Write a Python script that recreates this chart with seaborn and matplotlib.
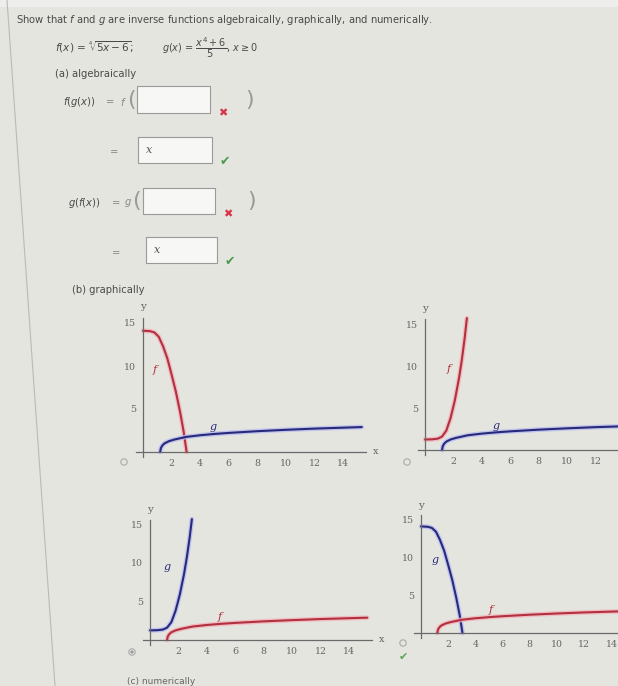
import numpy as np
import matplotlib
matplotlib.use('Agg')
import matplotlib.pyplot as plt
import seaborn as sns
from matplotlib.patches import Rectangle, Circle

# curve points (x, y)
root_x = [1.2, 1.25, 1.35, 1.5, 1.8, 2.2, 3, 4, 5, 6, 8, 10, 12, 15.3]
root_y = [0, 0.45, 0.75, 1.0, 1.25, 1.45, 1.75, 1.95, 2.1, 2.22, 2.42, 2.58, 2.72, 2.9]
drop_x = [0, 0.5, 0.8, 1.1, 1.4, 1.7, 2.0, 2.3, 2.6, 2.85, 3.05]
drop_y = [14.1, 14.05, 13.9, 13.4, 12.3, 10.9, 9.0, 7.0, 4.6, 2.3, 0]
rise_x = [0, 0.5, 0.9, 1.2, 1.5, 1.8, 2.1, 2.4, 2.6, 2.8, 2.95]
rise_y = [1.25, 1.27, 1.35, 1.6, 2.3, 3.8, 5.9, 8.6, 10.8, 13.4, 15.7]
x_ticks = [2, 4, 6, 8, 10, 12, 14]
y_ticks = [5, 10, 15]

W, H = 618, 686
BG = '#e4e5df'
RED, RED_GLOW = '#b3303f', '#f2b3ba'
BLUE, BLUE_GLOW = '#272a7a', '#b9bbf0'
TXT = '#4a4a4a'

sns.set_theme(style='white')
plt.rcParams['font.family'] = ['DejaVu Sans']
plt.rcParams['mathtext.fontset'] = 'dejavusans'

fig = plt.figure(figsize=(W / 100, H / 100), dpi=100)
fig.patch.set_facecolor(BG)

# pixel canvas for the page (text, boxes, marks)
cv = fig.add_axes([0, 0, 1, 1])
cv.set_xlim(0, W)
cv.set_ylim(H, 0)
cv.axis('off')
cv.set_facecolor(BG)
cv.plot([7, 55], [0, 686], color='#b9bbb4', lw=0.8)
cv.add_patch(Rectangle((0, 0), W, 7, color='#eeefec', lw=0))

fs = 7.2
cv.text(16, 20, 'Show that $f$ and $g$ are inverse functions algebraically, graphically, and numerically.',
        fontsize=fs, color=TXT, va='center')
cv.text(55, 47, r'$f(x)$ = $\sqrt[4]{5x-6}$;', fontsize=7.6, color=TXT, va='center')
cv.text(162, 48, r'$g(x)$ = $\dfrac{x^4+6}{5}$, $x \geq 0$', fontsize=7.0, color=TXT, va='center')
cv.text(55, 74, '(a) algebraically', fontsize=fs, color=TXT, va='center')

def box(x0, x1, y0, y1, content=None):
    cv.add_patch(Rectangle((x0, y0), x1 - x0, y1 - y0, facecolor='#f7f7f5',
                           edgecolor='#9a9a98', lw=0.8))
    if content:
        cv.text(x0 + 8, (y0 + y1) / 2, content, fontsize=8, color='#555',
                family='DejaVu Serif', style='italic', va='center')

cv.text(63, 102, '$f(g(x))$', fontsize=fs, color=TXT, va='center')
cv.text(106, 102, '=', fontsize=fs, color='#888', va='center')
cv.text(120, 102, '$f$', fontsize=fs, color='#888', va='center')
cv.text(127, 100, '(', fontsize=16, color='#999', va='center')
box(137, 210, 86, 113)
cv.text(223, 113, '\u2716', fontsize=8, color='#d8334a', ha='center', va='center')
cv.text(245, 100, ')', fontsize=16, color='#999', va='center')

cv.text(110, 152, '=', fontsize=fs, color='#888', va='center')
box(138, 212, 137, 163, 'x')
cv.text(225, 162, '\u2714', fontsize=9, color='#4f9a4f', ha='center', va='center')

cv.text(68, 203, '$g(f(x))$', fontsize=fs, color=TXT, va='center')
cv.text(112, 203, '=', fontsize=fs, color='#888', va='center')
cv.text(124, 203, '$g$', fontsize=fs, color='#888', va='center')
cv.text(132, 201, '(', fontsize=16, color='#999', va='center')
box(143, 215, 188, 214)
cv.text(228, 214, '\u2716', fontsize=8, color='#d8334a', ha='center', va='center')
cv.text(247, 201, ')', fontsize=16, color='#999', va='center')

cv.text(112, 253, '=', fontsize=fs, color='#888', va='center')
box(146, 217, 237, 263, 'x')
cv.text(230, 262, '\u2714', fontsize=9, color='#4f9a4f', ha='center', va='center')

cv.text(72, 290, '(b) graphically', fontsize=fs, color=TXT, va='center')
cv.text(127, 682, '(c) numerically', fontsize=fs - 0.7, color='#666', va='center')

# radio buttons
for cx, cy in [(124, 462), (407, 462), (132, 652), (403, 643)]:
    cv.add_patch(Circle((cx, cy), 3.2, facecolor='none', edgecolor='#aaa', lw=0.8))
cv.add_patch(Circle((132, 652), 1.6, facecolor='#999', lw=0))
cv.text(403, 657, '\u2714', fontsize=8, color='#5aa35a', ha='center', va='center')

XL, YL = (-0.5, 15.6), (-0.6, 16.3)

def graph(x0, sx, y0, sy, curves, labels, show_x=True, ticks=x_ticks):
    left = (x0 + XL[0] * sx) / W
    bottom = 1 - (y0 - YL[0] * sy) / H
    ax = fig.add_axes([left, bottom, (XL[1] - XL[0]) * sx / W, (YL[1] - YL[0]) * sy / H])
    ax.set_facecolor('none')
    ax.set_xlim(*XL)
    ax.set_ylim(*YL)
    for xs, ys, c, glow in curves:
        sns.lineplot(x=xs, y=ys, ax=ax, color=glow, lw=3.4, alpha=0.8, sort=False, estimator=None)
        sns.lineplot(x=xs, y=ys, ax=ax, color=c, lw=1.5, sort=False, estimator=None)
    for sp in ['top', 'right']:
        ax.spines[sp].set_visible(False)
    for sp in ['left', 'bottom']:
        ax.spines[sp].set_position(('data', 0))
        ax.spines[sp].set_color('#6a6a6a')
        ax.spines[sp].set_linewidth(0.9)
    ax.spines['left'].set_bounds(-0.6, 15.6)
    ax.set_xticks(ticks)
    ax.set_xticks(range(1, 16, 2), minor=True)
    ax.set_yticks(y_ticks)
    ax.tick_params(which='both', direction='inout', length=4, width=0.7, color='#777',
                   labelsize=6.8, labelcolor='#666', pad=3)
    for t in ax.get_xticklabels() + ax.get_yticklabels():
        t.set_family('DejaVu Serif')
    ax.text(0, 16.9, 'y', fontsize=7.5, color='#666', family='DejaVu Serif', ha='center', va='center',
            clip_on=False)
    if show_x:
        ax.text(16.1, 0, 'x', fontsize=7, color='#666', family='DejaVu Serif', va='center', clip_on=False)
    for tx, ty, s, c in labels:
        ax.text(tx, ty, s, fontsize=8, color=c, family='DejaVu Serif', style='italic',
                ha='center', va='center')
    return ax

graph(143, 14.3, 452, 8.6,
      [(drop_x, drop_y, RED, RED_GLOW), (root_x, root_y, BLUE, BLUE_GLOW)],
      [(0.85, 9.5, 'f', RED), (4.9, 2.9, 'g', BLUE)])
graph(425, 14.2, 450, 8.4,
      [(rise_x, rise_y, RED, RED_GLOW), (root_x, root_y, BLUE, BLUE_GLOW)],
      [(1.7, 9.7, 'f', RED), (5.0, 2.8, 'g', BLUE)], show_x=False, ticks=x_ticks[:-1])
graph(150, 14.2, 640, 7.7,
      [(rise_x, rise_y, BLUE, BLUE_GLOW), (root_x, root_y, RED, RED_GLOW)],
      [(1.2, 9.5, 'g', BLUE), (4.9, 3.0, 'f', RED)])
graph(421, 13.6, 633, 7.56,
      [(drop_x, drop_y, BLUE, BLUE_GLOW), (root_x, root_y, RED, RED_GLOW)],
      [(1.03, 9.6, 'g', BLUE), (5.1, 3.0, 'f', RED)], show_x=False)

fig.savefig('out.png', dpi=100, facecolor=BG)
